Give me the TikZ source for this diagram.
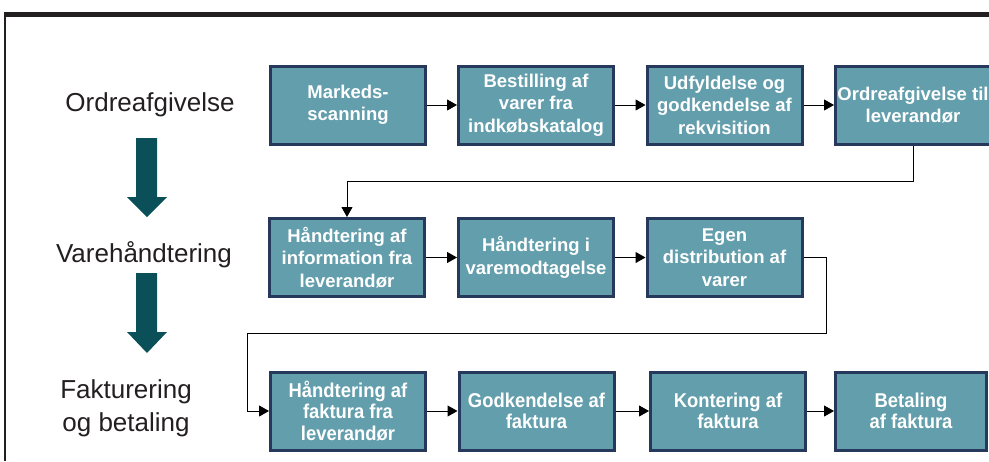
\documentclass[tikz,border=0pt]{standalone}
\usepackage{fontspec}
\setmainfont{Liberation Sans}
\newfontfamily\tallbold[FakeStretch=0.92]{Liberation Sans}
\usetikzlibrary{arrows.meta}

\definecolor{boxfill}{HTML}{639EAC}
\definecolor{boxedge}{HTML}{26395C}
\definecolor{bigarrow}{HTML}{0B5059}
\definecolor{ink}{HTML}{231F20}
\definecolor{wire}{HTML}{3A3A3A}

\tikzset{
  procbox/.style={draw=boxedge, line width=3pt, fill=boxfill, text=white,
    minimum width=155pt, minimum height=78pt, inner sep=0pt, align=center,
    font=\fontsize{18.5}{22.5}\selectfont\bfseries},
  lastrow/.style={procbox,
    font=\fontsize{20}{21.4}\selectfont\tallbold\bfseries},
  stage/.style={text=ink, align=center, inner sep=0pt,
    font=\fontsize{26}{33}\selectfont},
  flow/.style={draw=black, line width=1pt,
    -{Triangle[length=10pt,width=11pt]}},
  wire/.style={draw=wire, line width=1pt},
  phase/.style={fill=bigarrow}
}

\begin{document}
\begin{tikzpicture}[x=1pt,y=-1pt]
\useasboundingbox (0,0) rectangle (989,461);
\clip (0,0) rectangle (989,461);

% frame
\draw[ink, line width=4.7pt] (4,14.3) -- (989,14.3);
\draw[ink, line width=2pt] (5,12) -- (5,461);

% stage labels
\node[stage] (s1) at (150,105) {Ordreafgivelse};
\node[stage] (s2) at (144,255) {Varehåndtering};
\node[stage] (s3) at (126,408) {Fakturering\\og betaling};

% phase arrows
\fill[phase] (136,138) -- (157,138) -- (157,197) -- (167,197) -- (147,217)
  -- (127,197) -- (136,197) -- cycle;
\fill[phase] (136,273) -- (157,273) -- (157,332) -- (167,332) -- (147,353)
  -- (127,332) -- (136,332) -- cycle;

% row 1
\node[procbox] (a1) at (348,105) {Markeds-\\scanning};
\node[procbox] (a2) at (536,105) {Bestilling af\\varer fra\\indkøbskatalog};
\node[procbox] (a3) at (724.5,105) {Udfyldelse og\\godkendelse af\\rekvisition};
\node[procbox] (a4) at (913,105) {Ordreafgivelse til\\leverandør};

% row 2
\node[procbox] (b1) at (347,257.5) {Håndtering af\\information fra\\leverandør};
\node[procbox] (b2) at (536,257.5) {Håndtering i\\varemodtagelse};
\node[procbox] (b3) at (724.5,257.5) {Egen\\distribution af\\varer};

% row 3
\node[lastrow] (c1) at (348,411) {Håndtering af\\faktura fra\\leverandør};
\node[lastrow] (c2) at (536.5,411) {Godkendelse af\\faktura};
\node[lastrow] (c3) at (728,411) {Kontering af\\faktura};
\node[lastrow, minimum width=151pt] (c4) at (911,411) {Betaling\\af faktura};

% connectors within rows
\draw[flow] (a1) -- (a2);
\draw[flow] (a2) -- (a3);
\draw[flow] (a3) -- (a4);
\draw[flow] (b1) -- (b2);
\draw[flow] (b2) -- (b3);
\draw[flow] (c1) -- (c2);
\draw[flow] (c2) -- (c3);
\draw[flow] (c3) -- (c4);

% connectors between rows
\coordinate (j1) at (913,181);
\draw[wire] (a4.south) -- (j1) -| (b1.north) [flow];
\coordinate (j2) at (826,333);
\coordinate (j3) at (247,333);
\draw[wire] (b3.east) -| (j2) -- (j3) |- (c1.west) [flow];
\end{tikzpicture}
\end{document}
